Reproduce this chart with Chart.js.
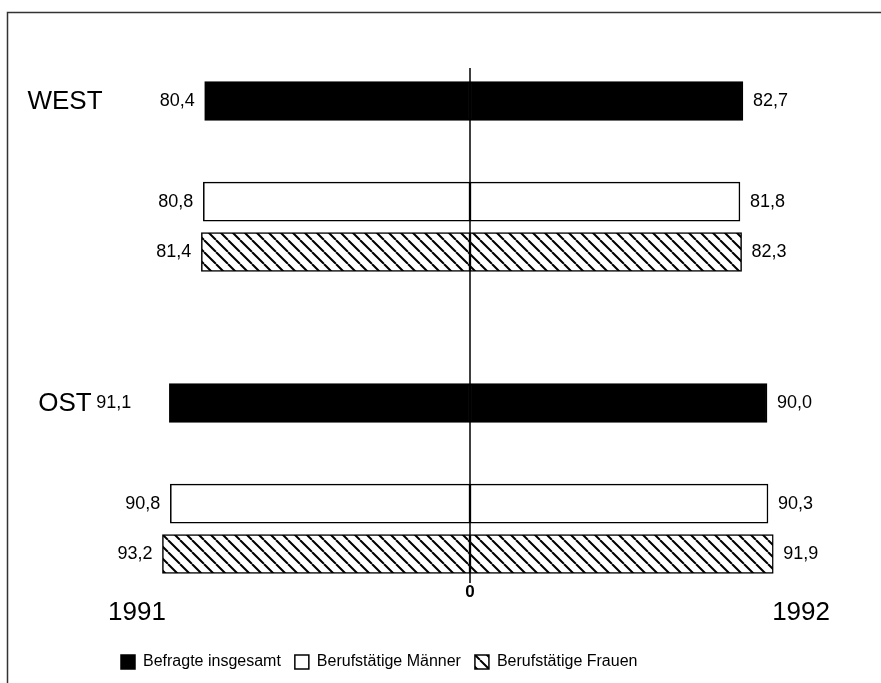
<!DOCTYPE html>
<html>
<head>
<meta charset="utf-8">
<script src="https://cdn.jsdelivr.net/npm/chart.js@4.4.0/dist/chart.umd.min.js"></script>
<style>
  html, body { margin: 0; padding: 0; background: #fff; }
</style>
</head>
<body>
<canvas id="barChart" width="881" height="683"></canvas>
<script>
// Daten
var groups = ['WEST', 'OST'];
var series = ['Befragte insgesamt', 'Berufstätige Männer', 'Berufstätige Frauen'];
var years = ['1991', '1992'];
var values1991 = [80.4, 80.8, 81.4, 91.1, 90.8, 93.2]; // links
var values1992 = [82.7, 81.8, 82.3, 90.0, 90.3, 91.9]; // rechts

// Zeilen liegen auf einem feinen Kategorienraster (leere Kategorien = Abstand)
var slotCount = 43;
var rowSlots = [0, 8, 12, 24, 32, 36];
var leftLabelGap = [10, 10, 10, 38, 10, 10]; // Abstand Wert <-> Balken (links)
var FONT = "'Liberation Sans', Arial, Helvetica, sans-serif";

// Schraffur für "Frauen"
function makeHatch() {
  var s = 12;
  var c = document.createElement('canvas');
  c.width = s; c.height = s;
  var g = c.getContext('2d');
  g.fillStyle = '#fff';
  g.fillRect(0, 0, s, s);
  g.strokeStyle = '#000';
  g.lineWidth = 2;
  g.beginPath();
  [-s, 0, s].forEach(function (x0) {
    g.moveTo(x0, 0);
    g.lineTo(x0 + s, s);
  });
  g.stroke();
  return g.createPattern(c, 'repeat');
}
var ctx = document.getElementById('barChart').getContext('2d');
var fills = ['#000', '#fff', makeHatch()];

// Kategorien und Datenreihen auf dem Raster aufbauen
var labels = [], left = [], right = [], colors = [];
for (var k = 0; k < slotCount; k++) {
  labels.push('');
  left.push(null);
  right.push(null);
  colors.push('#fff');
}
rowSlots.forEach(function (slot, i) {
  if (i % series.length === 0) labels[slot] = groups[i / series.length];
  left[slot] = -values1991[i];
  right[slot] = values1992[i];
  colors[slot] = fills[i % series.length];
});

function fmt(v) { return Math.abs(v).toFixed(1).replace('.', ','); }

var decor = {
  id: 'decor',
  beforeDraw: function (chart) {
    var c = chart.ctx;
    c.save();
    c.strokeStyle = '#333';
    c.lineWidth = 1.5;
    c.beginPath();
    c.moveTo(7.5, chart.height);
    c.lineTo(7.5, 12.5);
    c.lineTo(chart.width, 12.5);
    c.stroke();
    c.restore();
  },
  afterDatasetsDraw: function (chart) {
    var c = chart.ctx;
    var xs = chart.scales.x, area = chart.chartArea;
    var x0 = xs.getPixelForValue(0);
    c.save();
    // Mittellinie
    c.strokeStyle = '#000';
    c.lineWidth = 1.5;
    c.beginPath();
    c.moveTo(x0, 68);
    c.lineTo(x0, 583);
    c.stroke();

    c.fillStyle = '#000';
    c.textBaseline = 'middle';
    // Werte an den Balkenenden
    c.font = '18px ' + FONT;
    chart.data.datasets.forEach(function (ds, d) {
      var meta = chart.getDatasetMeta(d);
      rowSlots.forEach(function (slot, i) {
        var el = meta.data[slot];
        var v = ds.data[slot];
        if (v < 0) { c.textAlign = 'right'; c.fillText(fmt(v), el.x - leftLabelGap[i], el.y); }
        else { c.textAlign = 'left'; c.fillText(fmt(v), el.x + 10, el.y); }
      });
    });
    // Gruppen
    c.font = '26px ' + FONT;
    c.textAlign = 'center';
    chart.data.labels.forEach(function (lab, i) {
      if (lab) c.fillText(lab, 65, chart.scales.y.getPixelForValue(i) + 1);
    });
    // Jahre
    c.textAlign = 'left';
    c.fillText(years[0], area.left + 1, 613);
    c.textAlign = 'right';
    c.fillText(years[1], area.right - 3, 613);
    // Null
    c.textAlign = 'center';
    c.font = 'bold 17px ' + FONT;
    c.fillText('0', x0, 592);
    c.restore();
  }
};

var data = {
  labels: labels,
  datasets: [
    {
      label: years[0],
      data: left,
      backgroundColor: colors,
      borderColor: '#000',
      borderWidth: 1.5,
      borderSkipped: false,
      barThickness: 39,
      clip: false
    },
    {
      label: years[1],
      data: right,
      backgroundColor: colors,
      borderColor: '#000',
      borderWidth: 1.5,
      borderSkipped: false,
      barThickness: 39,
      clip: false
    }
  ]
};

var options = {
  indexAxis: 'y',
  responsive: false,
  animation: false,
  devicePixelRatio: 1,
  layout: { padding: { left: 107, right: 48, top: 94.71, bottom: 3 } },
  scales: {
    x: {
      min: -110, max: 110, stacked: true,
      ticks: { display: false },
      grid: { display: false },
      border: { display: false },
      afterFit: function (scale) { scale.height = 4.2; } // Luft bis zur Legende
    },
    y: { display: false, stacked: true }
  },
  plugins: {
    tooltip: { enabled: false },
    legend: {
      position: 'bottom',
      align: 'start',
      onClick: null,
      labels: {
        boxWidth: 14,
        boxHeight: 14,
        padding: 14,
        color: '#000',
        font: { family: FONT, size: 16 },
        generateLabels: function () {
          return series.map(function (name, i) {
            return {
              text: name,
              fillStyle: fills[i],
              strokeStyle: '#000',
              lineWidth: 1.5,
              hidden: false,
              datasetIndex: 0
            };
          });
        }
      }
    }
  }
};

var barChart = new Chart(ctx, {
  type: 'bar',
  data: data,
  options: options,
  plugins: [decor]
});
</script>
</body>
</html>
